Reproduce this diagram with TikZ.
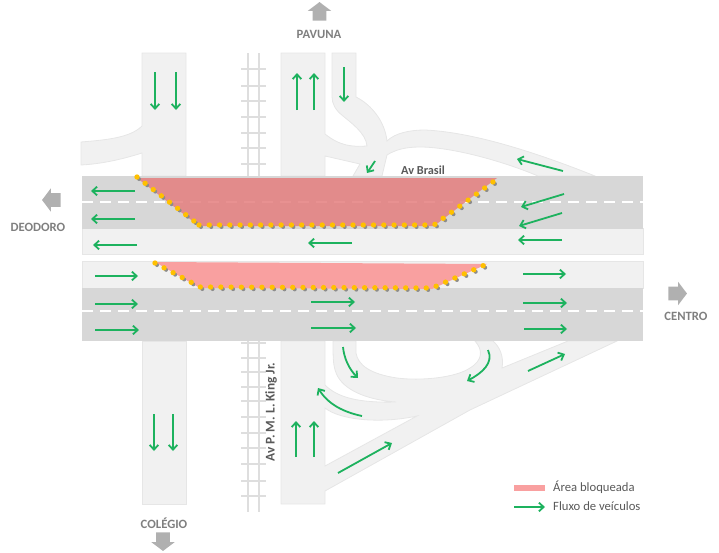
\documentclass[tikz,border=0pt]{standalone}
\usepackage{fontspec}
\usepackage{xcolor}
\usepackage{tikz}
\usetikzlibrary{arrows.meta,shapes.arrows}
\setmainfont{Carlito}
\definecolor{lane}{HTML}{F1F1F1}
\definecolor{laneedge}{HTML}{E6E6E6}
\definecolor{asphalt}{HTML}{D7D7D7}
\definecolor{rail}{HTML}{DEDEDE}
\definecolor{flowgreen}{HTML}{1DB25E}
\definecolor{blockdark}{HTML}{E57E7E}
\definecolor{blocklight}{HTML}{F9A0A0}
\definecolor{marker}{HTML}{FFC000}
\definecolor{markershade}{HTML}{8C8C8C}
\definecolor{place}{HTML}{7F7F7F}
\definecolor{legendtext}{HTML}{595959}
\tikzset{
  road/.style={fill=lane, draw=laneedge, line width=0.6pt},
  rails/.style={draw=rail, line width=1.2pt},
  dashline/.style={draw=white, line width=1.2pt, dash pattern=on 8pt off 5.5pt},
  flow/.style={draw=flowgreen, line width=1.35pt, -{Straight Barb[length=3.6pt,width=6.5pt,line width=1.35pt]}},
  thinflow/.style={flow, line width=1.1pt},
  dots/.style={draw=marker, line width=4pt, line cap=round, dash pattern=on 0pt off 7.7pt},
  dotshade/.style={draw=markershade, line width=3pt, line cap=round, dash pattern=on 0pt off 7.7pt},
  dirarrow/.style={single arrow, fill=place!62, draw=none, inner xsep=0pt, inner ysep=5pt,
    minimum width=0pt, single arrow head extend=3.6pt, single arrow tip angle=106, minimum height=14pt},
  placelbl/.style={text=place, font=\bfseries\fontsize{9.5}{11}\selectfont},
  roadlbl/.style={text=legendtext, font=\bfseries\fontsize{9.2}{11}\selectfont},
  legendlbl/.style={text=legendtext, font=\fontsize{9.5}{11}\selectfont, anchor=west}
}

\begin{document}
\begin{tikzpicture}[x=0.75pt,y=-0.75pt]
  \useasboundingbox (0,0) rectangle (719,553);

  % cross streets
  \path[road] (142,53) -- (186,53) -- (186,176) -- (142,176) -- (142,153)
    .. controls (120,160) and (100,164) .. (81,165) -- (81,142)
    .. controls (105,140) and (130,138) .. (142,126) -- cycle;
  \path[road] (142,341) rectangle (186,504);
  \path[road] (281,53) -- (325,53) -- (325,134)
    .. controls (340,146) and (352,147) .. (367,146)
    .. controls (366,133) and (350,122) .. (343,116)
    .. controls (335,110) and (332,103) .. (332,97) -- (332,53) -- (356,53) -- (356,97)
    .. controls (372,105) and (385,122) .. (387,141)
    .. controls (395,133) and (410,130) .. (425,130)
    .. controls (470,132) and (530,150) .. (595,176) -- (538,176)
    .. controls (500,160) and (450,147) .. (420,147)
    .. controls (405,147) and (395,150) .. (387,155) -- (382,176) -- (353,176) -- (360,164)
    -- (325,156) -- (325,176) -- (281,176) -- cycle;
  \path[road] (281,341) -- (325,341) -- (325,385)
    .. controls (338,398) and (360,403) .. (396,402)
    .. controls (370,400) and (347,392) .. (338,377)
    .. controls (333,368) and (333,360) .. (333,341) -- (356,341) -- (356,353)
    .. controls (358,365) and (370,374) .. (397,378)
    .. controls (420,381) and (455,378) .. (470,368)
    .. controls (483,360) and (483,350) .. (475,341) -- (493,341)
    .. controls (500,347) and (504,357) .. (502,368) -- (568,341) -- (617,341)
    -- (470,410) -- (325,491) -- (325,504) -- (281,504) -- cycle;
  \path[fill=white, draw=laneedge, line width=0.6pt] (325,408)
    .. controls (340,420) and (380,424) .. (417,416) -- (325,466) -- cycle;

  % railway
  \foreach \xr in {248,259} {
    \draw[rails] (\xr,53) -- (\xr,176);
    \draw[rails] (\xr,341) -- (\xr,512);
  }
  \foreach \yr in {69,86,101,117,133,148,164,343,358,372,387,401,417,433,448,464,481,496}
    \draw[rails] (241,\yr) -- (266,\yr);

  % Av Brasil
  \fill[asphalt] (82,176) rectangle (643,228);
  \fill[asphalt] (82,288) rectangle (643,341);
  \path[road] (82,228) rectangle (643,254);
  \path[road] (82,261) rectangle (643,288);
  \fill[asphalt] (82,228) rectangle (643,228.5);
  \fill[asphalt] (82,287.5) rectangle (643,288.5);
  \draw[dashline] (82,202) -- (643,202);
  \draw[dashline] (82,311) -- (643,311);

  % blocked areas
  \fill[blockdark, opacity=0.85] (137,178) -- (199,226) -- (434,226) -- (497,178) -- cycle;
  \fill[blocklight] (155,262) -- (200,288) -- (432,289) -- (487,264) -- cycle;
  \draw[dotshade, shift={(2,2)}] (137,177) -- (199,225);
  \draw[dotshade, shift={(2,2)}] (199,225) -- (434,225) -- (497,179);
  \draw[dotshade, shift={(2,2)}] (155,263) -- (200,287) -- (432,288) -- (487,264);
  \draw[dots] (137,177) -- (199,225);
  \draw[dots] (199,225) -- (434,225) -- (497,179);
  \draw[dots] (155,263) -- (200,287) -- (432,288) -- (487,264);

  % traffic flow
  \foreach \xa/\ya/\xb/\yb in {135/191/91/191, 135/219/91/219, 352/243/308/243, 562/240/518/240,
    95/276/138/276, 95/304/138/304, 95/330/139/330, 311/328/356/328,
    524/329/567/329, 155/72/155/110, 176/72/176/110, 154/414/154/451, 173/414/173/451,
    297/110/297/73, 314/110/314/73, 344/67/344/102, 296/457/296/421, 314/457/314/421,
    375/161/367/173, 563/171/517/159, 564/194/521/207, 562/213/519/226,
    528/371/565/354, 338/473/392/443}
    \draw[flow] (\xa,\ya) -- (\xb,\yb);
  \foreach \xa/\ya/\xb/\yb in {137/245/93/245, 311/302/355/302, 523/274/566/274, 523/303/567/303}
    \draw[thinflow] (\xa,\ya) -- (\xb,\yb);
  \draw[flow] (343,347) .. controls (344,358) and (349,369) .. (358,378);
  \draw[flow] (488,350) .. controls (494,363) and (482,373) .. (467,381);
  \draw[flow] (362,416) .. controls (343,412) and (328,404) .. (318,388);

  % directions
  \node[dirarrow, rotate=90] (pavunaarrow) at (319.5,14) {};
  \node[dirarrow, rotate=180] (deodoroarrow) at (54,200) {};
  \node[dirarrow] (centroarrow) at (675,293.5) {};
  \node[dirarrow, rotate=-90] (colegioarrow) at (163,539) {};
  \node[placelbl] (pavuna) at (319,34) {PAVUNA};
  \node[placelbl] (deodoro) at (38,227) {DEODORO};
  \node[placelbl] (centro) at (686,316) {CENTRO};
  \node[placelbl] (colegio) at (164,523) {COLÉGIO};
  \node[roadlbl] (brasil) at (423,170) {Av Brasil};
  \node[roadlbl, font=\bfseries\fontsize{10}{11}\selectfont, rotate=90] (king) at (271,412) {Av P. M. L. King Jr.};

  % legend
  \fill[blocklight] (514,485) rectangle (545,491);
  \coordinate (flowstart) at (514,507);
  \coordinate (flowend) at (545,507);
  \draw[thinflow] (flowstart) -- (flowend);
  \node[legendlbl] (areatxt) at (548.5,487) {Área bloqueada};
  \node[legendlbl] (fluxotxt) at (548.5,506) {Fluxo de veículos};
\end{tikzpicture}
\end{document}
